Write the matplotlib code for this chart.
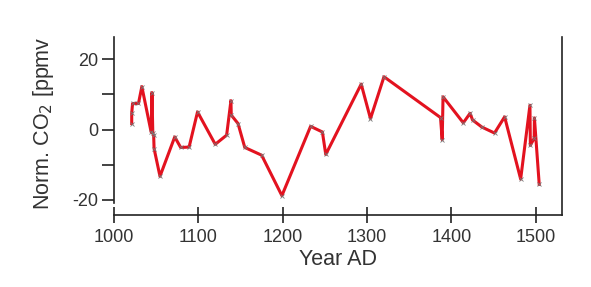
import matplotlib
matplotlib.use("Agg")
import matplotlib.pyplot as plt
from matplotlib.ticker import FixedLocator

plt.rcParams['font.family'] = ['Liberation Sans', 'DejaVu Sans']
plt.rcParams['axes.unicode_minus'] = False

years = [1021, 1021, 1022, 1029, 1033, 1044, 1045, 1046, 1047, 1047.5, 1054.5,
         1072, 1079, 1089, 1099, 1120, 1133.5, 1138.6, 1139, 1147, 1155, 1175,
         1199, 1233, 1247, 1251, 1293, 1304, 1320, 1387, 1389, 1390, 1414,
         1422, 1425, 1436, 1451, 1463, 1482, 1493, 1493.5, 1498, 1498.3, 1504]
co2 = [1.7, 4.6, 7.4, 7.4, 12.2, -0.7, 10.5, -1.1, -1.6, -5.4, -13.3,
       -2.1, -5.1, -5.0, 5.0, -4.2, -1.6, 8.2, 4.1, 1.7, -5.1, -7.3,
       -18.8, 0.9, -0.7, -7.1, 12.9, 3.1, 15.0, 3.4, -2.9, 9.3, 1.9,
       4.6, 2.7, 0.7, -1.0, 3.6, -14.1, 6.9, -4.5, -2.5, 3.3, -15.6]

x_ticks = [1000, 1100, 1200, 1300, 1400, 1500]
y_major = [-20, 0, 20]
y_minor = [-10, 10]

fig = plt.figure(figsize=(5.91, 2.87), dpi=100)
ax = fig.add_axes([114/591, 1-215/287, (562-114)/591, (215-37)/287])

ax.plot(years, co2, color='#e3121f', lw=2.2, marker='x', ms=3.5,
        mec='#777777', mew=0.6, zorder=3)

ax.set_xlim(1000, 1531)
ax.set_ylim(-24.3, 26.3)

ax.spines['top'].set_visible(False)
for s in ['left', 'bottom', 'right']:
    ax.spines[s].set_linewidth(1.2)
    ax.spines[s].set_color('#222222')
ax.spines['left'].set_bounds(-20.8, 26.3)

ax.set_xticks(x_ticks)
ax.set_yticks(y_major)
ax.yaxis.set_minor_locator(FixedLocator(y_minor))
ax.tick_params(axis='x', direction='inout', length=12, width=1.2,
               labelsize=13, pad=4, color='#222222', labelcolor='#333333')
ax.tick_params(axis='y', which='both', direction='out', length=9, width=1.2,
               labelsize=13, pad=2, color='#222222', labelcolor='#333333')
ax.tick_params(axis='x', which='minor', bottom=False)

ax.set_xlabel('Year AD', fontsize=15.5, color='#333333', labelpad=2)
fig.text(44/591, 1-123/287, 'Norm. CO$_2$ [ppmv', rotation=90, fontsize=15.5,
         color='#333333', ha='center', va='center')

fig.savefig('out.png', dpi=100)
